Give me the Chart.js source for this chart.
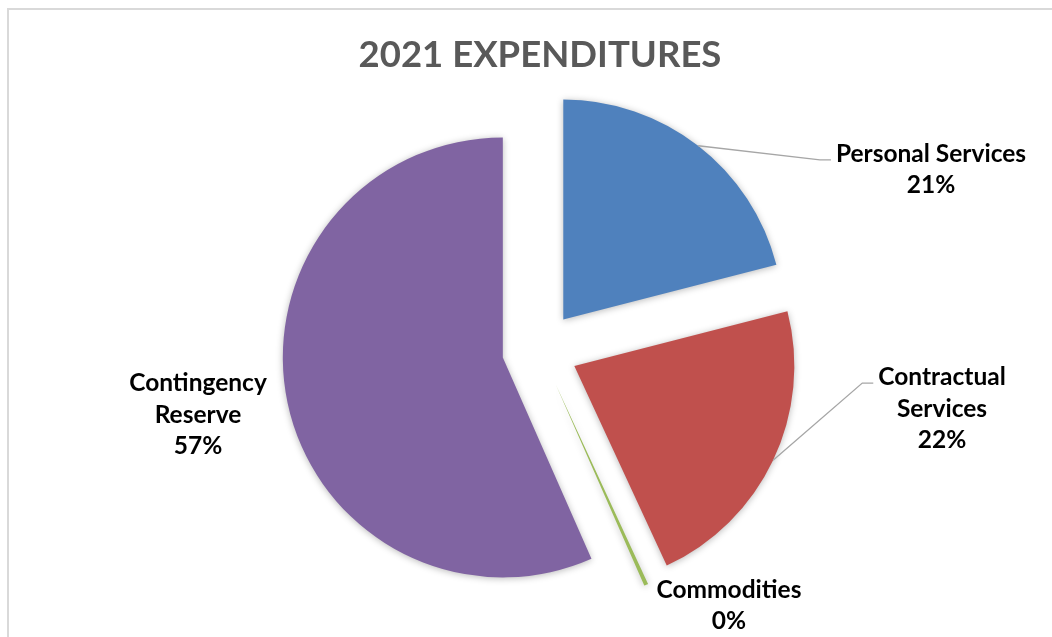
<!DOCTYPE html>
<html>
<head>
<meta charset="utf-8">
<title>2021 Expenditures</title>
<script src="https://cdn.jsdelivr.net/npm/chart.js@4.4.1/dist/chart.umd.min.js"></script>
<style>
  html, body { margin: 0; padding: 0; background: #ffffff; }
  #wrap { width: 1052px; height: 637px; position: relative; }
  canvas { display: block; }
</style>
</head>
<body>
<div id="wrap"><canvas id="chart" width="1052" height="637"></canvas></div>
<script>
// Expenditure categories and their share of the 2021 budget (percent)
const categories = ['Personal Services', 'Contractual Services', 'Commodities', 'Contingency Reserve'];
const shares = [21.0, 22.1, 0.3, 56.6];
const sliceColors = ['#4F81BD', '#C0504D', '#9BBB59', '#8064A2'];

// Label text lines for each slice (category name broken over lines)
const labelLines = [
  ['Personal Services'],
  ['Contractual', 'Services'],
  ['Commodities'],
  ['Contingency', 'Reserve']
];
// Label block centres, relative to the pie centre, in pixels
const labelOffsets = [[391, -180], [402, 59], [189, 256], [-342, 65]];
// Which labels are tied to their slice by a leader line
const hasLeader = [true, true, false, false];

const EXPLODE = 38;      // distance each slice is pulled out from the centre
const PIE_RADIUS = 220;
const LABEL_FONT = 'bold 24.5px Lato, "Open Sans", sans-serif';
const LINE_H = 31.5;

const total = shares.reduce((a, b) => a + b, 0);
const pctText = v => Math.round(v / total * 100) + '%';

// Arc that is shifted outward along its bisector without growing its radius
class ExplodedArc extends Chart.ArcElement {
  draw(ctx) {
    const mid = (this.startAngle + this.endAngle) / 2;
    ctx.save();
    ctx.translate(Math.cos(mid) * EXPLODE, Math.sin(mid) * EXPLODE);
    super.draw(ctx);
    ctx.restore();
  }
}
ExplodedArc.id = 'explodedArc';

class ExplodedPieController extends Chart.PieController {}
ExplodedPieController.id = 'explodedPie';
ExplodedPieController.defaults = { dataElementType: 'explodedArc' };

Chart.register(ExplodedArc, ExplodedPieController);

// Light frame around the chart object
const framePlugin = {
  id: 'frame',
  beforeDraw(chart) {
    const ctx = chart.ctx;
    ctx.save();
    ctx.fillStyle = '#ffffff';
    ctx.fillRect(0, 0, chart.width, chart.height);
    ctx.fillStyle = '#d9d9d9';
    ctx.fillRect(7, 8, 2, chart.height);
    ctx.fillRect(7, 8, chart.width, 2);
    ctx.restore();
  }
};

// Soft shadow under the slices
const shadowPlugin = {
  id: 'sliceShadow',
  beforeDatasetsDraw(chart) {
    const ctx = chart.ctx;
    ctx.save();
    ctx.shadowColor = 'rgba(0,0,0,0.28)';
    ctx.shadowBlur = 7;
    ctx.shadowOffsetX = 0;
    ctx.shadowOffsetY = 1;
  },
  afterDatasetsDraw(chart) {
    chart.ctx.restore();
  }
};

// Category / percent labels with leader lines
const labelPlugin = {
  id: 'sliceLabels',
  afterDatasetsDraw(chart) {
    const ctx = chart.ctx;
    const meta = chart.getDatasetMeta(0);
    const area = chart.chartArea;
    const cx = (area.left + area.right) / 2;
    const cy = (area.top + area.bottom) / 2;
    ctx.save();
    ctx.font = LABEL_FONT;
    ctx.fillStyle = '#000000';
    ctx.textAlign = 'center';
    ctx.textBaseline = 'middle';
    meta.data.forEach((arc, i) => {
      const lines = labelLines[i].concat([pctText(shares[i])]);
      const bx = cx + labelOffsets[i][0];
      const by = cy + labelOffsets[i][1];
      const firstY = by - (lines.length - 1) * LINE_H / 2;
      if (hasLeader[i]) {
        const p = arc.getProps(['x', 'y', 'startAngle', 'endAngle', 'outerRadius'], true);
        const mid = (p.startAngle + p.endAngle) / 2;
        const sx = p.x + Math.cos(mid) * (p.outerRadius + EXPLODE);
        const sy = p.y + Math.sin(mid) * (p.outerRadius + EXPLODE);
        const w = ctx.measureText(lines[0]).width;
        const ex = bx - w / 2 - 5;
        const ey = firstY + 6;
        ctx.beginPath();
        ctx.moveTo(sx, sy);
        ctx.lineTo(ex - 11, ey);
        ctx.lineTo(ex, ey);
        ctx.strokeStyle = '#a6a6a6';
        ctx.lineWidth = 1.3;
        ctx.stroke();
      }
      lines.forEach((t, k) => ctx.fillText(t, bx, firstY + k * LINE_H));
    });
    ctx.restore();
  }
};

new Chart(document.getElementById('chart'), {
  type: 'explodedPie',
  data: {
    labels: categories,
    datasets: [{
      data: shares,
      backgroundColor: sliceColors,
      borderWidth: 0,
      offset: 0,
      hoverOffset: 0
    }]
  },
  options: {
    responsive: false,
    animation: false,
    devicePixelRatio: 1,
    radius: PIE_RADIUS,
    layout: { padding: { left: 28, right: 0, top: 0, bottom: 14.6 } },
    plugins: {
      legend: { display: false },
      tooltip: { enabled: false },
      title: {
        display: true,
        text: '2021 EXPENDITURES',
        color: '#595959',
        font: { family: 'Lato, "Open Sans", sans-serif', size: 36.5, weight: 'bold', lineHeight: 1.2 },
        padding: { top: 33, bottom: 0 }
      }
    }
  },
  plugins: [framePlugin, shadowPlugin, labelPlugin]
});
</script>
</body>
</html>
